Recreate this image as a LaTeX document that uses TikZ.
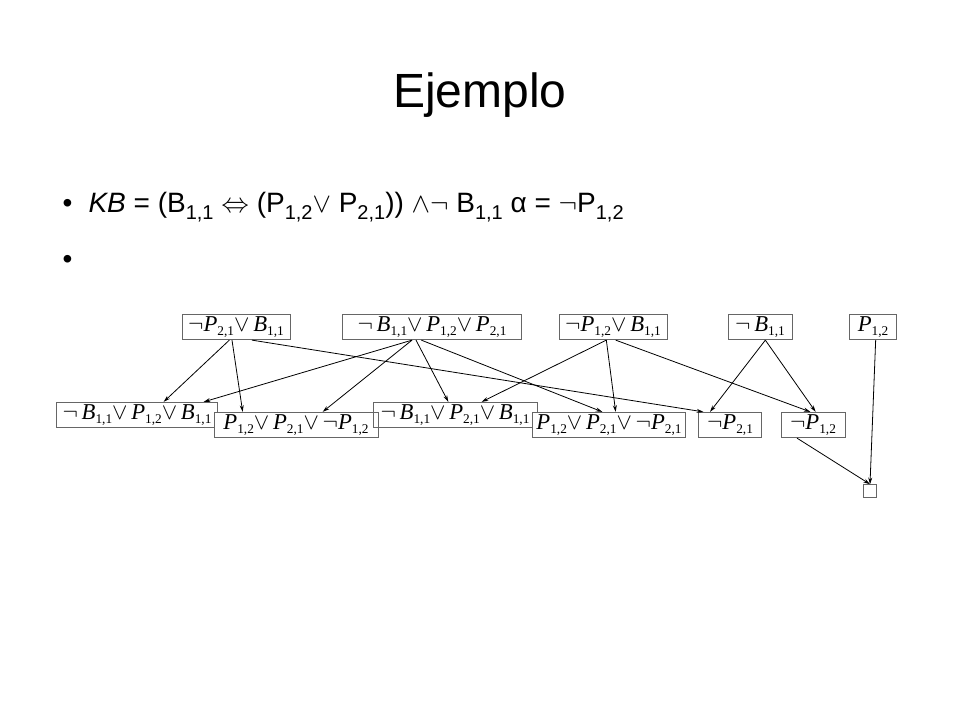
\documentclass[tikz,border=0pt]{standalone}
\usepackage{fontspec}
\setmainfont{Liberation Sans}
\newfontfamily\tms{Liberation Serif}
\newcommand{\Vr}[2]{{\itshape #1}\raisebox{-0.45ex}{\fontsize{10}{10}\selectfont #2}}
\newcommand{\Ng}{$\neg$}
\newcommand{\Or}{$\vee$\,}
\newcommand{\Sb}[1]{\raisebox{-0.45ex}{\fontsize{15}{15}\selectfont #1}}
\usetikzlibrary{arrows.meta}
\tikzset{cl/.style={draw=black!60,line width=0.7pt,inner sep=1pt,minimum height=19pt,font=\tms\fontsize{17}{17}\selectfont},
ar/.style={-{Stealth[length=5pt,width=3pt]},line width=0.6pt}}
\begin{document}
\begin{tikzpicture}[x=0.75pt,y=-0.75pt]
\useasboundingbox (0,0) rectangle (960,720);
\node[font=\fontsize{36}{36}\selectfont] (title) at (480,95) {Ejemplo};
\node[anchor=west,font=\fontsize{21}{21}\selectfont] (kb) at (58,207) {\textbullet\hspace{12pt}\textit{KB} = (B\Sb{1,1} $\Leftrightarrow$ (P\Sb{1,2}$\vee$ P\Sb{2,1})) $\wedge\neg$ B\Sb{1,1} α = $\neg$P\Sb{1,2}};
\node[anchor=west,font=\fontsize{21}{21}\selectfont] (bb) at (58,262) {\textbullet};
\node[cl,minimum width=81pt] (t1) at (236,327) {\Ng\Vr{P}{2,1}\Or\Vr{B}{1,1}};
\node[cl,minimum width=134pt] (t2) at (432,327) {\Ng\,\Vr{B}{1,1}\Or\Vr{P}{1,2}\Or\Vr{P}{2,1}};
\node[cl,minimum width=81pt] (t3) at (613,327) {\Ng\Vr{P}{1,2}\Or\Vr{B}{1,1}};
\node[cl,minimum width=48pt] (t4) at (760,327) {\Ng\,\Vr{B}{1,1}};
\node[cl,minimum width=35pt] (t5) at (873,327) {\Vr{P}{1,2}};
\node[cl,minimum width=121pt] (b1) at (137,415) {\Ng\,\Vr{B}{1,1}\Or\Vr{P}{1,2}\Or\Vr{B}{1,1}};
\node[cl,minimum width=123pt,fill=white] (b2n) at (296,425) {\Vr{P}{1,2}\Or\Vr{P}{2,1}\Or\Ng\Vr{P}{1,2}};
\node[cl,minimum width=123pt] (b3) at (455,415) {\Ng\,\Vr{B}{1,1}\Or\Vr{P}{2,1}\Or\Vr{B}{1,1}};
\node[cl,minimum width=115pt,fill=white] (b4) at (609,425) {\Vr{P}{1,2}\Or\Vr{P}{2,1}\Or\Ng\Vr{P}{2,1}};
\node[cl,minimum width=47pt] (b5) at (730,425) {\Ng\Vr{P}{2,1}};
\node[cl,minimum width=48pt] (b6) at (813,425) {\Ng\Vr{P}{1,2}};
\node[draw=black!60,line width=0.7pt,minimum size=9.5pt,inner sep=0pt] (e) at (870,491) {};
\draw[ar] ([xshift=-5]t1.south) -- ([xshift=20]b1.north);
\draw[ar] ([xshift=-3]t1.south) -- ([xshift=-40]b2n.north);
\draw[ar] ([xshift=12]t1.south) -- ([xshift=-20]b5.north);
\draw[ar] ([xshift=-15]t2.south) -- ([xshift=50]b1.north);
\draw[ar] ([xshift=-15]t2.south) -- ([xshift=20]b2n.north);
\draw[ar] ([xshift=-12]t2.south) -- ([xshift=-5]b3.north);
\draw[ar] ([xshift=-8]t2.south) -- ([xshift=-5]b4.north);
\draw[ar] ([xshift=-5]t3.south) -- ([xshift=20]b3.north);
\draw[ar] ([xshift=-5]t3.south) -- ([xshift=5]b4.north);
\draw[ar] ([xshift=2]t3.south) -- ([xshift=-2]b6.north);
\draw[ar] ([xshift=4]t4.south) -- ([xshift=-15]b5.north);
\draw[ar] ([xshift=4]t4.south) -- ([xshift=2]b6.north);
\draw[ar] ([xshift=2]t5.south) -- (e.north);
\draw[ar] ([xshift=-12]b6.south) -- (e.north);
\end{tikzpicture}
\end{document}
